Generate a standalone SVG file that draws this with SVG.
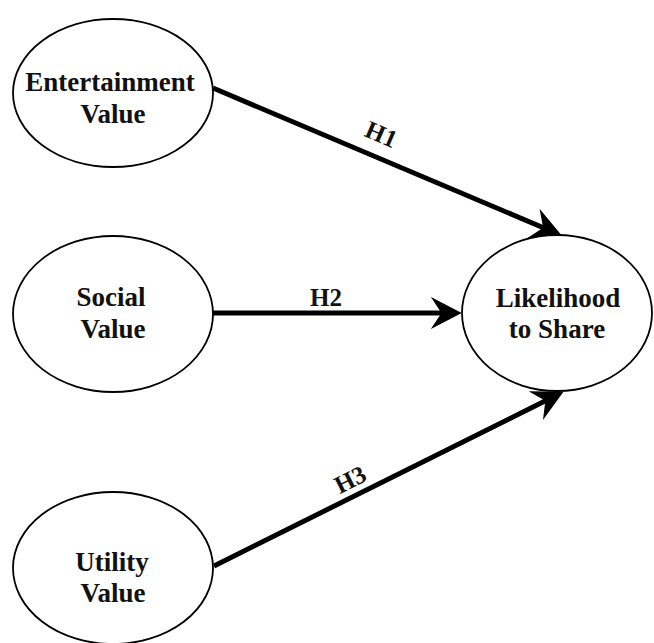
<svg xmlns="http://www.w3.org/2000/svg" width="654" height="643" viewBox="0 0 654 643">
  <style>
    .node ellipse { fill: #ffffff; stroke: #000000; stroke-width: 1.8; }
    .lbl { font-family: "Liberation Serif", "Times New Roman", serif; font-weight: bold; font-size: 27px; fill: #111111; text-anchor: middle; }
    .hl { font-family: "Liberation Serif", "Times New Roman", serif; font-weight: bold; font-size: 25px; fill: #111111; text-anchor: middle; }
    .edge { stroke: #000000; stroke-width: 5; fill: none; marker-end: url(#arrow); }
  </style>
  <defs>
    <marker id="arrow" markerUnits="userSpaceOnUse" markerWidth="32" markerHeight="32" refX="18" refY="15" orient="auto" viewBox="0 0 30 30">
      <path d="M0,0 L29,15 L0,30 L10,15 Z" fill="#000000"/>
    </marker>
  </defs>
  <rect width="654" height="643" fill="#ffffff"/>

  <g id="connectors">
    <g id="edge-h1">
      <line class="edge" x1="213" y1="88" x2="551" y2="231"/>
      <text class="hl" transform="translate(378,142) rotate(23.4)">H1</text>
    </g>
    <g id="edge-h2">
      <line class="edge" x1="213" y1="313" x2="450" y2="313"/>
      <text class="hl" x="326" y="306">H2</text>
    </g>
    <g id="edge-h3">
      <line class="edge" x1="214" y1="566" x2="553" y2="397"/>
      <text class="hl" transform="translate(354,487) rotate(-26.6)">H3</text>
    </g>
  </g>

  <g id="entertainment" class="node">
    <ellipse cx="113" cy="93" rx="100" ry="74"/>
    <text class="lbl" x="110" y="91">Entertainment</text>
    <text class="lbl" x="113" y="123">Value</text>
  </g>
  <g id="social" class="node">
    <ellipse cx="113" cy="314" rx="100" ry="78"/>
    <text class="lbl" x="111" y="306">Social</text>
    <text class="lbl" x="113" y="338">Value</text>
  </g>
  <g id="utility" class="node">
    <ellipse cx="113" cy="568" rx="100" ry="76"/>
    <text class="lbl" x="112" y="571">Utility</text>
    <text class="lbl" x="113" y="602">Value</text>
  </g>
  <g id="likelihood" class="node">
    <ellipse cx="557" cy="313" rx="95" ry="78"/>
    <text class="lbl" x="558" y="307">Likelihood</text>
    <text class="lbl" x="557" y="338">to Share</text>
  </g>
</svg>
